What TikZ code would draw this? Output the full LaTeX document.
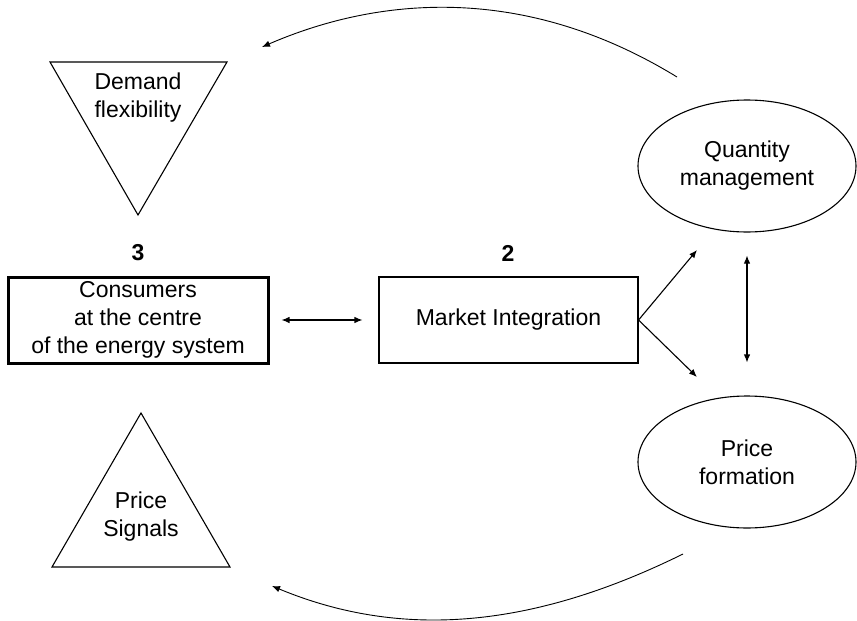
\documentclass[tikz,border=0pt]{standalone}
\usepackage{fontspec}
\setmainfont{Liberation Sans}
\usetikzlibrary{shapes.geometric,arrows.meta,positioning}
\begin{document}
\begin{tikzpicture}[
                    x=1pt, y=-1pt,
                    >={Latex[length=8pt,width=6.5pt]},
                    line width=1.1pt,
                    every node/.style={font=\fontsize{23}{28}\selectfont, align=center},
                    box/.style={draw, rectangle, minimum width=260pt, minimum height=86pt, inner sep=0pt},
                    oval/.style={draw, ellipse, minimum width=218pt, minimum height=132pt, inner sep=0pt},
                    num/.style={font=\fontsize{23}{28}\selectfont\bfseries}
                    ]
    \useasboundingbox (0,0) rectangle (857,621);

    \node [box, line width=3pt] (consumers) at (138,320) {Consumers\\at the centre\\of the energy system};
    \node [box, minimum width=259pt] (market) at (508.5,320) {Market Integration};
    \node [num] (three) at (138,253) {3};
    \node [num] (two) at (508,253) {2};
    \node [oval] (quantity) at (747,166) {Quantity\\management};
    \node [oval] (formation) at (747,462) {Price\\formation};

    % triangles
    \draw (50,62) -- (227,62) -- (138,215) -- cycle;
    \node (demand) at (138,98) {Demand\\flexibility};
    \draw (141,413) -- (230,567) -- (52,567) -- cycle;
    \node (signals) at (141,517) {Price\\Signals};

    % free ends
    \coordinate (qin) at (697,250);
    \coordinate (fin) at (697,377);
    \coordinate (topstart) at (677,77);
    \coordinate (topend) at (262,47);
    \coordinate (botstart) at (683,554);
    \coordinate (botend) at (272,586);

    \draw[<->, shorten <=12pt, shorten >=16pt] (consumers) -- (market);
    \draw[->] (market.east) -- (qin);
    \draw[->] (market.east) -- (fin);
    \draw[<->, shorten <=23pt, shorten >=33pt] (quantity) -- (formation);
    \draw[->, line width=0.9pt] (topstart) .. controls (527,-15) and (382,-5) .. (topend);
    \draw[->, line width=0.9pt] (botstart) .. controls (533,628) and (402,640) .. (botend);
\end{tikzpicture}
\end{document}
